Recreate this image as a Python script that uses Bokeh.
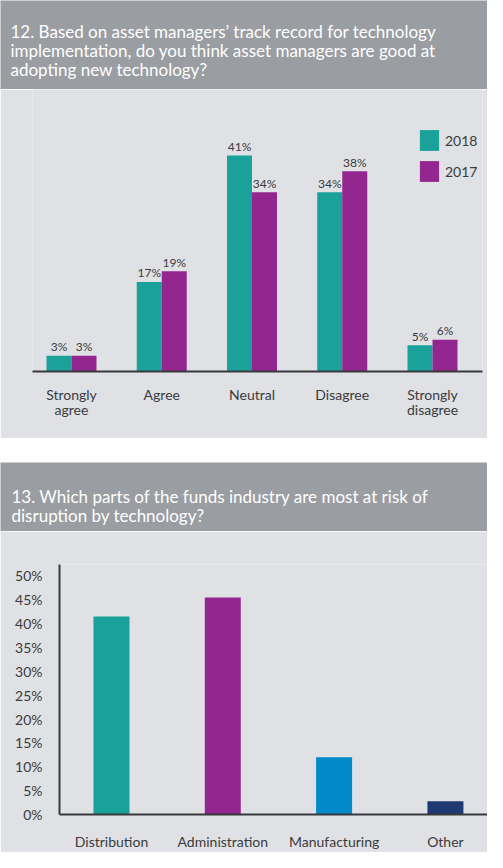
from bokeh.plotting import figure
from bokeh.layouts import column
from bokeh.models import (Range1d, FixedTicker, PrintfTickFormatter, Legend,
                          LegendItem, Spacer, ColumnDataSource)
from bokeh.core.properties import value
from bokeh.embed import file_html
from bokeh.resources import INLINE

# ---------------- data ----------------
title1_lines = ["12. Based on asset managers\u2019 track record for technology",
                "implementation, do you think asset managers are good at",
                "adopting new technology?"]
title2_lines = ["13. Which parts of the funds industry are most at risk of",
                "disruption by technology?"]

q12_categories = ["Strongly\nagree", "Agree", "Neutral", "Disagree", "Strongly\ndisagree"]
q12_series = ["2018", "2017"]
q12_2018 = [3, 17, 41, 34, 5]
q12_2017 = [3, 19, 34, 38, 6]

q13_categories = ["Distribution", "Administration", "Manufacturing", "Other"]
q13_values = [41.5, 45.5, 12.0, 2.8]
q13_ticks = [0, 5, 10, 15, 20, 25, 30, 35, 40, 45, 50]

# ---------------- style ----------------
FONT = "Lato"
HEADER_BG = "#9a9da2"
PANEL_BG = "#dfe1e4"
TEXT_DARK = "#3a3b3e"
AXIS_COLOR = "#38393c"
TEAL = "#19a19a"
PURPLE = "#93278f"
BLUE = "#0189c9"
NAVY = "#1f3a73"
q13_colors = [TEAL, PURPLE, BLUE, NAVY]

W = 487


def header(lines, height, first_baseline, x0, step=19):
    p = figure(width=W, height=height, x_range=Range1d(0, W), y_range=Range1d(0, height),
               output_backend="svg", toolbar_location=None, min_border=0,
               x_axis_location=None, y_axis_location=None, frame_align=False,
               background_fill_color=HEADER_BG, border_fill_color=HEADER_BG,
               outline_line_color=None)
    p.grid.visible = False
    ys = [height - (first_baseline + i * step) for i in range(len(lines))]
    p.text(x=[x0] * len(lines), y=ys, text=lines, text_font=value(FONT),
           text_font_size="17px", text_color="white", text_baseline="alphabetic",
           text_align="left")
    return p


h1 = header(title1_lines, 89, 31, 10)
h2 = header(title2_lines, 69, 34, 11)

# ---------------- chart 12 ----------------
p1 = figure(width=W, height=349, x_range=Range1d(-0.432, 4.554), y_range=Range1d(0, 53.5),
            output_backend="svg", toolbar_location=None, y_axis_location=None,
            frame_align=False,
            min_border_left=32, min_border_right=5, min_border_top=0, min_border_bottom=67,
            background_fill_color=PANEL_BG, border_fill_color=PANEL_BG,
            outline_line_color=None)
p1.grid.visible = False

idx1 = list(range(len(q12_categories)))
bw = 0.277
src18 = ColumnDataSource(dict(x=[i - bw / 2 for i in idx1], top=q12_2018,
                              lab=[f"{v}%" for v in q12_2018]))
src17 = ColumnDataSource(dict(x=[i + bw / 2 for i in idx1], top=q12_2017,
                              lab=[f"{v}%" for v in q12_2017]))
r18 = p1.vbar(x="x", top="top", width=bw, source=src18, fill_color=TEAL, line_color=None)
r17 = p1.vbar(x="x", top="top", width=bw, source=src17, fill_color=PURPLE, line_color=None)
for s in (src18, src17):
    p1.text(x="x", y="top", text="lab", source=s, text_font=value(FONT),
            text_font_size="12px", text_color=TEXT_DARK, text_align="center",
            text_baseline="alphabetic", y_offset=-9)

ax = p1.xaxis[0]
ax.ticker = FixedTicker(ticks=idx1)
ax.major_label_overrides = {i: c for i, c in enumerate(q12_categories)}
ax.axis_line_color = AXIS_COLOR
ax.axis_line_width = 2
ax.major_tick_line_color = None
ax.minor_tick_line_color = None
ax.major_label_standoff = 8
ax.major_label_text_font = FONT
ax.major_label_text_font_size = "14px"
ax.major_label_text_color = TEXT_DARK
ax.major_label_text_line_height = 0.9

legend = Legend(items=[LegendItem(label=q12_series[0], renderers=[r18]),
                       LegendItem(label=q12_series[1], renderers=[r17])],
                location=(385, 187), glyph_width=24, glyph_height=26, spacing=5,
                label_standoff=4, padding=0, margin=0, background_fill_alpha=0,
                border_line_color=None, label_text_font=FONT,
                label_text_font_size="14px", label_text_color=TEXT_DARK)
p1.add_layout(legend)

# ---------------- chart 13 ----------------
p2 = figure(width=W, height=321, x_range=Range1d(-0.467, 3.378), y_range=Range1d(0, 52.4),
            output_backend="svg", toolbar_location=None, frame_align=False,
            min_border_left=59, min_border_right=0, min_border_top=33, min_border_bottom=34,
            background_fill_color=PANEL_BG, border_fill_color=PANEL_BG,
            outline_line_color=None)
p2.grid.visible = False
idx2 = list(range(len(q13_categories)))
src13 = ColumnDataSource(dict(x=idx2, top=q13_values, color=q13_colors))
p2.vbar(x="x", top="top", width=0.3234, source=src13, fill_color="color", line_color=None)

xa = p2.xaxis[0]
xa.ticker = FixedTicker(ticks=idx2)
xa.major_label_overrides = {i: c for i, c in enumerate(q13_categories)}
ya = p2.yaxis[0]
ya.ticker = FixedTicker(ticks=q13_ticks)
ya.formatter = PrintfTickFormatter(format="%d%%")
for a, st in ((xa, 12), (ya, 11)):
    a.axis_line_color = AXIS_COLOR
    a.axis_line_width = 2
    a.major_tick_line_color = None
    a.minor_tick_line_color = None
    a.major_label_standoff = st
    a.major_label_text_font = FONT
    a.major_label_text_font_size = "14px"
    a.major_label_text_color = TEXT_DARK

layout = column(h1, p1, Spacer(width=W, height=24), h2, p2)

open("out.html", "w").write(file_html(layout, INLINE))
